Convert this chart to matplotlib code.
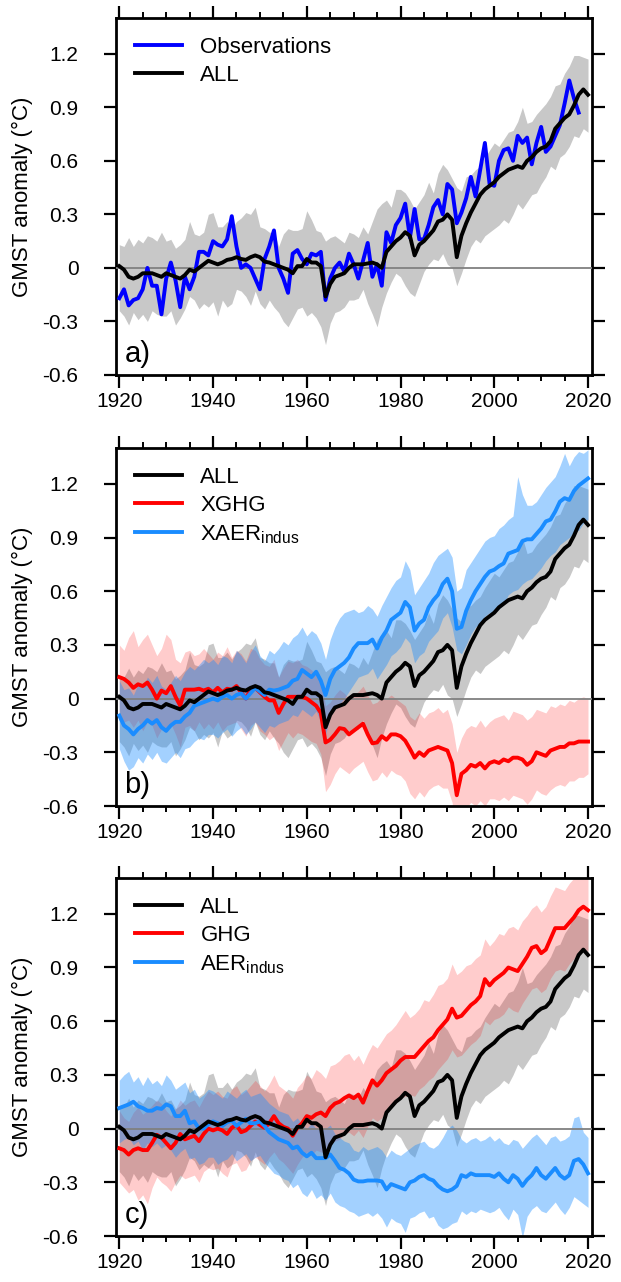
import numpy as np
import matplotlib
matplotlib.use('Agg')
import matplotlib.pyplot as plt
from matplotlib.ticker import MultipleLocator

plt.rcParams['font.family'] = ['Liberation Sans', 'DejaVu Sans']
plt.rcParams['mathtext.fontset'] = 'custom'
plt.rcParams['mathtext.rm'] = 'Liberation Sans'

# ---- dados ----
anos = np.arange(1920, 2021)
anos_obs = np.arange(1920, 2019)

obs = [-0.17, -0.12, -0.21, -0.18, -0.17, -0.12, 0.00, -0.10, -0.10, -0.26,
       -0.06, 0.03, -0.07, -0.22, -0.05, -0.12, -0.05, 0.09, 0.09, 0.07,
       0.15, 0.13, 0.12, 0.16, 0.29, 0.12, 0.00, 0.02, 0.00, -0.06,
       -0.12, 0.05, 0.12, 0.21, 0.00, -0.06, -0.14, 0.08, 0.10, 0.05,
       0.02, 0.08, 0.07, 0.09, -0.18, -0.06, 0.00, 0.03, -0.02, 0.08,
       0.02, -0.06, 0.04, 0.14, -0.05, 0.02, -0.10, 0.20, 0.14, 0.24,
       0.28, 0.36, 0.17, 0.33, 0.16, 0.16, 0.24, 0.34, 0.38, 0.30,
       0.47, 0.44, 0.25, 0.31, 0.39, 0.51, 0.40, 0.55, 0.70, 0.47,
       0.46, 0.60, 0.66, 0.67, 0.60, 0.74, 0.70, 0.73, 0.58, 0.70,
       0.79, 0.65, 0.68, 0.74, 0.80, 0.92, 1.05, 0.95, 0.87]

all_med = [0.01, -0.01, -0.05, -0.06, -0.05, -0.03, -0.03, -0.03, -0.04, -0.05,
           -0.03, -0.04, -0.05, -0.06, -0.04, -0.01, -0.02, 0.00, 0.02, 0.04,
           0.03, 0.02, 0.03, 0.045, 0.05, 0.06, 0.05, 0.045, 0.06, 0.07,
           0.06, 0.035, 0.03, 0.02, 0.01, 0.00, -0.01, -0.03, 0.01, 0.01,
           0.05, 0.03, 0.03, 0.01, -0.16, -0.09, -0.05, -0.04, -0.03, 0.00,
           0.02, 0.02, 0.02, 0.025, 0.03, 0.02, 0.00, 0.09, 0.12, 0.15,
           0.17, 0.20, 0.18, 0.07, 0.13, 0.15, 0.18, 0.21, 0.26, 0.27,
           0.30, 0.27, 0.06, 0.18, 0.25, 0.31, 0.36, 0.41, 0.44, 0.46,
           0.48, 0.51, 0.53, 0.55, 0.56, 0.57, 0.56, 0.60, 0.62, 0.65,
           0.67, 0.68, 0.71, 0.78, 0.81, 0.84, 0.86, 0.91, 0.97, 1.00,
           0.97]
all_sup = [0.13, 0.12, 0.17, 0.12, 0.16, 0.14, 0.18, 0.17, 0.15, 0.20,
           0.15, 0.16, 0.11, 0.13, 0.16, 0.26, 0.19, 0.18, 0.20, 0.30,
           0.31, 0.23, 0.23, 0.26, 0.22, 0.26, 0.28, 0.31, 0.30, 0.34,
           0.23, 0.22, 0.20, 0.20, 0.12, 0.19, 0.22, 0.21, 0.21, 0.22,
           0.32, 0.27, 0.21, 0.20, 0.15, 0.17, 0.18, 0.16, 0.14, 0.20,
           0.19, 0.17, 0.23, 0.19, 0.26, 0.33, 0.36, 0.38, 0.34, 0.44,
           0.44, 0.42, 0.38, 0.33, 0.37, 0.41, 0.48, 0.42, 0.53, 0.58,
           0.55, 0.50, 0.45, 0.43, 0.51, 0.52, 0.55, 0.57, 0.62, 0.66,
           0.70, 0.68, 0.72, 0.76, 0.77, 0.82, 0.90, 0.81, 0.82, 0.86,
           0.89, 0.92, 0.96, 1.02, 1.03, 1.09, 1.13, 1.19, 1.19, 1.18,
           1.17]
all_inf = [-0.24, -0.27, -0.32, -0.25, -0.29, -0.26, -0.30, -0.24, -0.26, -0.27,
           -0.27, -0.24, -0.32, -0.28, -0.23, -0.16, -0.18, -0.23, -0.20, -0.22,
           -0.19, -0.27, -0.18, -0.22, -0.20, -0.12, -0.13, -0.16, -0.21, -0.13,
           -0.20, -0.23, -0.18, -0.22, -0.25, -0.30, -0.33, -0.28, -0.23, -0.22,
           -0.27, -0.25, -0.28, -0.33, -0.43, -0.31, -0.25, -0.24, -0.22, -0.18,
           -0.18, -0.17, -0.12, -0.20, -0.26, -0.33, -0.22, -0.14, -0.08, -0.03,
           -0.05, -0.10, -0.14, -0.16, -0.09, -0.02, 0.02, 0.05, 0.04, 0.08,
           0.02, 0.00, -0.10, -0.03, 0.05, 0.12, 0.16, 0.14, 0.18, 0.20,
           0.22, 0.24, 0.27, 0.25, 0.30, 0.36, 0.33, 0.37, 0.41, 0.42,
           0.47, 0.51, 0.57, 0.55, 0.62, 0.64, 0.68, 0.74, 0.73, 0.78,
           0.76]

xghg_med = [0.12, 0.11, 0.09, 0.06, 0.08, 0.07, 0.09, 0.05, 0.00, 0.045,
            0.03, 0.07, 0.01, -0.04, 0.05, 0.05, 0.05, 0.055, 0.045, 0.055,
            0.035, 0.06, 0.035, 0.055, 0.05, 0.07, 0.035, 0.00, 0.05, 0.06,
            0.035, 0.01, -0.01, -0.01, -0.08, -0.03, 0.01, 0.01, 0.01, 0.01,
            0.00, -0.02, -0.04, -0.08, -0.245, -0.23, -0.20, -0.165, -0.17, -0.20,
            -0.18, -0.16, -0.14, -0.20, -0.25, -0.245, -0.21, -0.23, -0.20, -0.20,
            -0.21, -0.235, -0.28, -0.33, -0.30, -0.32, -0.29, -0.28, -0.27, -0.28,
            -0.29, -0.36, -0.54, -0.42, -0.40, -0.37, -0.38, -0.36, -0.39, -0.36,
            -0.35, -0.36, -0.34, -0.35, -0.33, -0.33, -0.34, -0.37, -0.35, -0.30,
            -0.31, -0.32, -0.29, -0.28, -0.27, -0.27, -0.25, -0.25, -0.24, -0.24,
            -0.24]
xghg_sup = [0.30, 0.27, 0.34, 0.38, 0.29, 0.33, 0.36, 0.30, 0.24, 0.28,
            0.36, 0.33, 0.22, 0.20, 0.26, 0.27, 0.24, 0.25, 0.28, 0.25,
            0.22, 0.26, 0.24, 0.29, 0.23, 0.27, 0.25, 0.21, 0.28, 0.27,
            0.22, 0.19, 0.18, 0.22, 0.12, 0.17, 0.21, 0.20, 0.22, 0.19,
            0.18, 0.16, 0.13, 0.10, -0.04, -0.02, 0.02, 0.05, 0.03, 0.00,
            0.02, 0.04, 0.07, 0.02, -0.03, -0.02, 0.01, 0.00, 0.02, 0.00,
            -0.02, -0.04, -0.10, -0.12, -0.08, -0.11, -0.08, -0.07, -0.05, -0.08,
            -0.06, -0.14, -0.30, -0.22, -0.17, -0.15, -0.16, -0.12, -0.16, -0.13,
            -0.11, -0.10, -0.09, -0.12, -0.07, -0.08, -0.09, -0.12, -0.10, -0.06,
            -0.07, -0.08, -0.04, -0.05, -0.03, -0.04, -0.01, -0.02, 0.00, 0.01,
            0.00]
xghg_inf = [-0.10, -0.13, -0.12, -0.16, -0.12, -0.18, -0.13, -0.15, -0.22, -0.17,
            -0.19, -0.14, -0.20, -0.27, -0.16, -0.15, -0.18, -0.13, -0.17, -0.14,
            -0.17, -0.13, -0.18, -0.15, -0.14, -0.13, -0.17, -0.21, -0.15, -0.13,
            -0.18, -0.20, -0.23, -0.21, -0.29, -0.24, -0.19, -0.22, -0.19, -0.20,
            -0.22, -0.24, -0.25, -0.31, -0.52, -0.48, -0.42, -0.38, -0.40, -0.42,
            -0.39, -0.37, -0.35, -0.41, -0.46, -0.45, -0.41, -0.44, -0.40, -0.42,
            -0.43, -0.46, -0.53, -0.56, -0.52, -0.55, -0.51, -0.49, -0.48, -0.50,
            -0.50, -0.58, -0.75, -0.64, -0.61, -0.58, -0.60, -0.57, -0.60, -0.56,
            -0.56, -0.57, -0.55, -0.57, -0.54, -0.55, -0.56, -0.59, -0.56, -0.51,
            -0.53, -0.54, -0.51, -0.49, -0.48, -0.49, -0.46, -0.46, -0.44, -0.44,
            -0.42]

xaer_med = [-0.095, -0.15, -0.17, -0.20, -0.17, -0.15, -0.12, -0.14, -0.12, -0.16,
            -0.18, -0.15, -0.13, -0.13, -0.10, -0.08, -0.04, -0.03, -0.02, -0.01,
            0.00, -0.01, 0.01, 0.02, 0.00, 0.02, 0.03, 0.00, 0.03, 0.06,
            0.04, 0.02, 0.05, 0.045, 0.05, 0.06, 0.07, 0.10, 0.11, 0.16,
            0.14, 0.12, 0.15, 0.10, 0.02, 0.11, 0.16, 0.18, 0.20, 0.23,
            0.28, 0.31, 0.31, 0.31, 0.33, 0.28, 0.34, 0.38, 0.44, 0.46,
            0.48, 0.54, 0.51, 0.38, 0.42, 0.44, 0.51, 0.55, 0.58, 0.64,
            0.67, 0.60, 0.39, 0.40, 0.49, 0.55, 0.60, 0.64, 0.68, 0.71,
            0.72, 0.74, 0.755, 0.81, 0.82, 0.83, 0.88, 0.89, 0.89, 0.92,
            0.95, 0.99, 1.00, 1.045, 1.10, 1.12, 1.11, 1.16, 1.19, 1.21,
            1.23]
xaer_sup = [0.10, 0.05, 0.06, 0.02, 0.08, 0.06, 0.12, 0.09, 0.13, 0.07,
            0.05, 0.09, 0.13, 0.10, 0.15, 0.18, 0.16, 0.19, 0.22, 0.20,
            0.22, 0.19, 0.24, 0.23, 0.20, 0.27, 0.24, 0.20, 0.26, 0.30,
            0.24, 0.21, 0.27, 0.25, 0.28, 0.32, 0.30, 0.34, 0.36, 0.40,
            0.35, 0.38, 0.36, 0.31, 0.22, 0.33, 0.40, 0.45, 0.48, 0.49,
            0.50, 0.48, 0.49, 0.52, 0.50, 0.46, 0.52, 0.57, 0.62, 0.66,
            0.68, 0.77, 0.72, 0.58, 0.62, 0.66, 0.70, 0.76, 0.80, 0.82,
            0.84, 0.79, 0.60, 0.62, 0.72, 0.76, 0.80, 0.84, 0.88, 0.90,
            0.91, 0.95, 0.97, 1.00, 1.02, 1.24, 1.14, 1.08, 1.08, 1.10,
            1.14, 1.18, 1.21, 1.24, 1.30, 1.37, 1.30, 1.35, 1.38, 1.37,
            1.39]
xaer_inf = [-0.28, -0.35, -0.40, -0.38, -0.33, -0.36, -0.31, -0.34, -0.30, -0.35,
            -0.36, -0.33, -0.30, -0.33, -0.28, -0.27, -0.24, -0.22, -0.23, -0.20,
            -0.20, -0.22, -0.19, -0.17, -0.21, -0.18, -0.16, -0.20, -0.17, -0.13,
            -0.16, -0.19, -0.15, -0.16, -0.14, -0.13, -0.12, -0.09, -0.10, -0.06,
            -0.08, -0.10, -0.07, -0.13, -0.20, -0.10, -0.06, -0.03, 0.00, 0.04,
            0.08, 0.12, 0.13, 0.14, 0.17, 0.11, 0.15, 0.19, 0.24, 0.26,
            0.29, 0.34, 0.31, 0.20, 0.24, 0.26, 0.32, 0.35, 0.38, 0.45,
            0.48, 0.40, 0.27, 0.25, 0.30, 0.36, 0.40, 0.42, 0.46, 0.48,
            0.48, 0.50, 0.53, 0.58, 0.60, 0.61, 0.64, 0.66, 0.67, 0.70,
            0.73, 0.77, 0.80, 0.82, 0.86, 0.88, 0.90, 0.93, 0.94, 0.98,
            1.00]

ghg_med = [-0.11, -0.12, -0.145, -0.12, -0.11, -0.12, -0.12, -0.08, -0.035, -0.05,
           -0.08, -0.11, -0.08, -0.03, -0.06, -0.05, -0.04, -0.07, -0.03, 0.00,
           -0.01, 0.00, -0.01, -0.03, 0.005, 0.02, -0.02, -0.01, 0.015, 0.04,
           0.02, 0.005, 0.03, 0.07, 0.03, 0.01, 0.00, -0.04, 0.005, 0.03,
           0.07, 0.06, 0.08, 0.09, 0.07, 0.115, 0.14, 0.15, 0.17, 0.185,
           0.17, 0.19, 0.145, 0.21, 0.27, 0.24, 0.27, 0.31, 0.33, 0.35,
           0.38, 0.40, 0.40, 0.40, 0.43, 0.46, 0.49, 0.51, 0.55, 0.58,
           0.61, 0.67, 0.62, 0.63, 0.66, 0.69, 0.71, 0.74, 0.835, 0.80,
           0.83, 0.85, 0.87, 0.90, 0.89, 0.88, 0.92, 0.96, 1.01, 1.02,
           0.98, 1.00, 1.06, 1.12, 1.12, 1.12, 1.15, 1.18, 1.22, 1.24,
           1.22]
ghg_sup = [0.10, 0.06, 0.04, 0.09, 0.12, 0.08, 0.10, 0.13, 0.16, 0.14,
           0.10, 0.07, 0.11, 0.16, 0.13, 0.15, 0.16, 0.12, 0.17, 0.21,
           0.19, 0.21, 0.18, 0.17, 0.22, 0.24, 0.19, 0.21, 0.24, 0.27,
           0.24, 0.21, 0.25, 0.30, 0.24, 0.22, 0.20, 0.17, 0.23, 0.26,
           0.30, 0.28, 0.33, 0.31, 0.28, 0.35, 0.36, 0.38, 0.41, 0.42,
           0.38, 0.41, 0.36, 0.42, 0.47, 0.45, 0.49, 0.53, 0.55, 0.58,
           0.62, 0.66, 0.62, 0.64, 0.67, 0.72, 0.71, 0.75, 0.80, 0.81,
           0.84, 0.92, 0.86, 0.88, 0.91, 0.92, 0.95, 0.97, 1.06, 1.02,
           1.05, 1.09, 1.08, 1.12, 1.13, 1.11, 1.16, 1.19, 1.23, 1.25,
           1.21, 1.24, 1.30, 1.35, 1.34, 1.33, 1.37, 1.40, 1.44, 1.46,
           1.45]
ghg_inf = [-0.30, -0.33, -0.36, -0.34, -0.40, -0.37, -0.42, -0.33, -0.27, -0.30,
           -0.32, -0.35, -0.30, -0.26, -0.28, -0.27, -0.26, -0.30, -0.24, -0.22,
           -0.23, -0.22, -0.25, -0.27, -0.20, -0.19, -0.24, -0.23, -0.18, -0.16,
           -0.18, -0.20, -0.16, -0.13, -0.17, -0.19, -0.22, -0.25, -0.20, -0.16,
           -0.13, -0.15, -0.12, -0.13, -0.14, -0.09, -0.07, -0.06, -0.03, -0.02,
           -0.04, -0.01, -0.05, 0.01, 0.06, 0.04, 0.06, 0.10, 0.12, 0.14,
           0.17, 0.18, 0.19, 0.18, 0.22, 0.24, 0.27, 0.29, 0.33, 0.36,
           0.39, 0.44, 0.40, 0.41, 0.44, 0.47, 0.49, 0.52, 0.60, 0.58,
           0.61, 0.62, 0.64, 0.68, 0.66, 0.65, 0.70, 0.74, 0.78, 0.79,
           0.76, 0.78, 0.84, 0.88, 0.89, 0.88, 0.92, 0.95, 0.99, 1.01,
           0.99]

aer_med = [0.115, 0.125, 0.135, 0.15, 0.125, 0.115, 0.10, 0.10, 0.115, 0.11,
           0.135, 0.125, 0.07, 0.07, 0.10, 0.03, 0.04, 0.00, 0.00, 0.025,
           0.04, 0.03, 0.015, 0.035, 0.045, 0.015, 0.035, 0.055, 0.03, 0.03,
           0.04, 0.015, -0.02, -0.04, -0.06, -0.07, -0.08, -0.11, -0.10, -0.135,
           -0.155, -0.135, -0.165, -0.165, -0.165, -0.145, -0.18, -0.22, -0.23, -0.25,
           -0.285, -0.295, -0.295, -0.29, -0.29, -0.29, -0.295, -0.34, -0.31, -0.32,
           -0.33, -0.34, -0.30, -0.29, -0.27, -0.26, -0.28, -0.29, -0.32, -0.34,
           -0.35, -0.34, -0.32, -0.26, -0.27, -0.25, -0.26, -0.26, -0.26, -0.26,
           -0.27, -0.25, -0.28, -0.30, -0.26, -0.28, -0.32, -0.285, -0.26, -0.22,
           -0.26, -0.28, -0.25, -0.22, -0.26, -0.28, -0.26, -0.18, -0.17, -0.20,
           -0.25]
aer_sup = [0.27, 0.30, 0.32, 0.26, 0.29, 0.24, 0.29, 0.25, 0.27, 0.24,
           0.30, 0.27, 0.22, 0.24, 0.26, 0.20, 0.22, 0.17, 0.19, 0.22,
           0.21, 0.19, 0.17, 0.21, 0.19, 0.17, 0.20, 0.22, 0.18, 0.19,
           0.20, 0.17, 0.14, 0.12, 0.10, 0.09, 0.08, 0.04, 0.06, 0.02,
           0.00, 0.03, 0.00, -0.01, 0.00, 0.02, -0.03, -0.05, -0.07, -0.08,
           -0.12, -0.13, -0.10, -0.12, -0.11, -0.10, -0.12, -0.16, -0.12, -0.14,
           -0.15, -0.13, -0.11, -0.09, -0.08, -0.07, -0.10, -0.11, -0.09, -0.05,
           0.00, 0.02, -0.01, -0.06, -0.08, -0.06, -0.05, -0.07, -0.06, -0.04,
           -0.07, -0.05, -0.08, -0.09, -0.06, -0.07, -0.11, -0.08, -0.05, -0.03,
           -0.06, -0.09, -0.05, -0.04, -0.07, -0.06, -0.04, 0.06, 0.07, -0.02,
           -0.05]
aer_inf = [-0.08, -0.06, -0.05, -0.09, -0.07, -0.12, -0.08, -0.10, -0.08, -0.11,
           -0.09, -0.12, -0.16, -0.13, -0.11, -0.17, -0.16, -0.20, -0.19, -0.16,
           -0.16, -0.20, -0.18, -0.17, -0.14, -0.18, -0.16, -0.14, -0.18, -0.16,
           -0.15, -0.19, -0.22, -0.25, -0.26, -0.28, -0.29, -0.33, -0.31, -0.36,
           -0.38, -0.34, -0.39, -0.37, -0.40, -0.36, -0.41, -0.43, -0.44, -0.46,
           -0.47, -0.49, -0.48, -0.47, -0.49, -0.47, -0.50, -0.55, -0.50, -0.52,
           -0.53, -0.58, -0.50, -0.49, -0.47, -0.46, -0.50, -0.49, -0.54, -0.56,
           -0.55, -0.53, -0.52, -0.46, -0.48, -0.46, -0.47, -0.45, -0.46, -0.47,
           -0.46, -0.44, -0.48, -0.51, -0.45, -0.48, -0.61, -0.49, -0.45, -0.43,
           -0.46, -0.47, -0.44, -0.41, -0.45, -0.48, -0.44, -0.38, -0.40, -0.42,
           -0.44]

yticks = [-0.6, -0.3, 0, 0.3, 0.6, 0.9, 1.2]
ytick_labels = ['-0.6', '-0.3', '0', '0.3', '0.6', '0.9', '1.2']
xticks = [1920, 1940, 1960, 1980, 2000, 2020]

cor_cinza = '#c8c8c8'
cor_verm = '#ff0000'
cor_azul = '#1a8cff'


def formata_eixo(ax, rotulo):
    ax.set_xlim(1919.3, 2020.85)
    ax.set_ylim(-0.6, 1.4)
    ax.axhline(0, color='#808080', linewidth=1.3, zorder=3)
    ax.set_yticks(yticks)
    ax.set_yticklabels(ytick_labels)
    ax.set_xticks(xticks)
    ax.xaxis.set_minor_locator(MultipleLocator(5))
    ax.tick_params(axis='both', which='major', direction='out', length=9, width=1.6,
                   labelsize=15, top=True, right=True)
    ax.tick_params(axis='x', which='minor', direction='out', length=4.5, width=1.4,
                   top=True, bottom=True)
    ax.tick_params(axis='y', which='major', pad=18)
    ax.tick_params(axis='x', which='major', pad=3)
    for s in ax.spines.values():
        s.set_linewidth(2)
    ax.set_ylabel('GMST anomaly (°C)', fontsize=16)
    ax.yaxis.set_label_coords(-0.175, 0.5)
    ax.text(0.018, 0.02, rotulo, transform=ax.transAxes, fontsize=21,
            ha='left', va='bottom')
    ax.legend(loc='upper left', frameon=False, fontsize=16, handlelength=2.1,
              handletextpad=0.85, labelspacing=0.32, borderaxespad=0.45)


fig = plt.figure(figsize=(6.21, 12.82), dpi=100)
esq, larg = 116 / 621, 476 / 621
ax_a = fig.add_axes([esq, 1 - 375 / 1282, larg, 357 / 1282])
ax_b = fig.add_axes([esq, 1 - 806 / 1282, larg, 358 / 1282])
ax_c = fig.add_axes([esq, 1 - 1236 / 1282, larg, 358 / 1282])

lw = 2.8

# painel a
ax_a.fill_between(anos, all_inf, all_sup, color=cor_cinza, linewidth=0, zorder=1)
ax_a.plot(anos_obs, obs, color='#0000ff', linewidth=lw, label='Observations', zorder=4)
ax_a.plot(anos, all_med, color='black', linewidth=lw, label='ALL', zorder=5)
formata_eixo(ax_a, 'a)')

# painel b
ax_b.fill_between(anos, all_inf, all_sup, color=cor_cinza, linewidth=0, zorder=1)
ax_b.fill_between(anos, xghg_inf, xghg_sup, color=cor_verm, alpha=0.2, linewidth=0, zorder=2)
ax_b.fill_between(anos, xaer_inf, xaer_sup, color=cor_azul, alpha=0.4, linewidth=0, zorder=2)
ax_b.plot(anos, all_med, color='black', linewidth=lw, label='ALL', zorder=5)
ax_b.plot(anos, xghg_med, color=cor_verm, linewidth=lw, label='XGHG', zorder=4)
ax_b.plot(anos, xaer_med, color=cor_azul, linewidth=lw, label=r'XAER$_{\mathrm{indus}}$', zorder=4)
formata_eixo(ax_b, 'b)')

# painel c
ax_c.fill_between(anos, all_inf, all_sup, color=cor_cinza, linewidth=0, zorder=1)
ax_c.fill_between(anos, ghg_inf, ghg_sup, color=cor_verm, alpha=0.2, linewidth=0, zorder=2)
ax_c.fill_between(anos, aer_inf, aer_sup, color=cor_azul, alpha=0.4, linewidth=0, zorder=2)
ax_c.plot(anos, all_med, color='black', linewidth=lw, label='ALL', zorder=5)
ax_c.plot(anos, ghg_med, color=cor_verm, linewidth=lw, label='GHG', zorder=4)
ax_c.plot(anos, aer_med, color=cor_azul, linewidth=lw, label=r'AER$_{\mathrm{indus}}$', zorder=4)
formata_eixo(ax_c, 'c)')

fig.savefig('out.png', dpi=100)
